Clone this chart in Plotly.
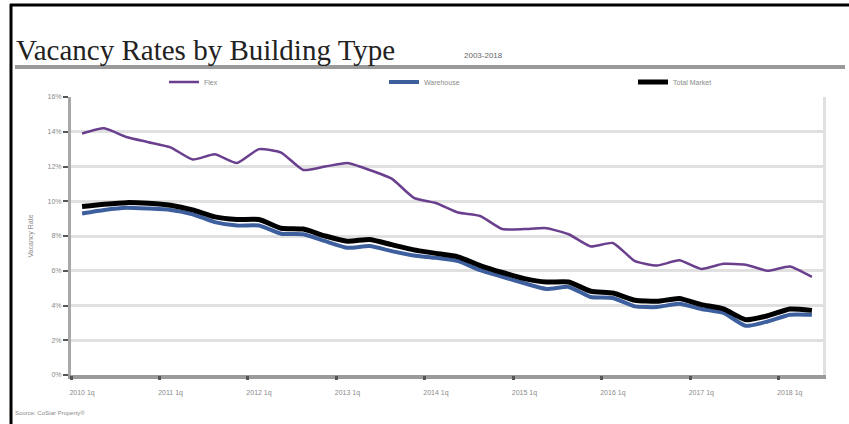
import plotly.graph_objects as go

# Quarterly vacancy rates, 2010 1q through 2018 2q (percent)
quarters = [
    "2010 1q", "2010 2q", "2010 3q", "2010 4q",
    "2011 1q", "2011 2q", "2011 3q", "2011 4q",
    "2012 1q", "2012 2q", "2012 3q", "2012 4q",
    "2013 1q", "2013 2q", "2013 3q", "2013 4q",
    "2014 1q", "2014 2q", "2014 3q", "2014 4q",
    "2015 1q", "2015 2q", "2015 3q", "2015 4q",
    "2016 1q", "2016 2q", "2016 3q", "2016 4q",
    "2017 1q", "2017 2q", "2017 3q", "2017 4q",
    "2018 1q", "2018 2q",
]
flex = [13.9, 14.2, 13.7, 13.4, 13.1, 12.4, 12.7, 12.2, 13.0, 12.8,
        11.8, 12.0, 12.2, 11.8, 11.3, 10.2, 9.9, 9.35, 9.15, 8.4,
        8.4, 8.45, 8.1, 7.4, 7.6, 6.55, 6.3, 6.6, 6.1, 6.4,
        6.35, 6.0, 6.25, 5.65]
warehouse = [9.3, 9.5, 9.63, 9.58, 9.5, 9.25, 8.8, 8.6, 8.6, 8.13,
             8.1, 7.7, 7.32, 7.42, 7.13, 6.88, 6.74, 6.55, 6.03, 5.65,
             5.28, 4.95, 5.07, 4.49, 4.43, 3.95, 3.91, 4.1, 3.8, 3.57,
             2.83, 3.08, 3.47, 3.47]
total_market = [9.7, 9.83, 9.92, 9.88, 9.77, 9.5, 9.1, 8.95, 8.95, 8.45,
                8.4, 8.0, 7.7, 7.8, 7.5, 7.2, 7.0, 6.8, 6.3, 5.9,
                5.55, 5.35, 5.35, 4.82, 4.72, 4.3, 4.24, 4.4, 4.05, 3.8,
                3.18, 3.41, 3.8, 3.72]

year_labels = ["2010 1q", "2011 1q", "2012 1q", "2013 1q", "2014 1q",
               "2015 1q", "2016 1q", "2017 1q", "2018 1q"]
y_ticks = [0, 2, 4, 6, 8, 10, 12, 14, 16]
y_tick_text = ["0%", "2%", "4%", "6%", "8%", "10%", "12%", "14%", "16%"]

W, H = 849, 424
ML, MR, MT, MB = 71, 26, 97, 49
PW, PH = W - ML - MR, H - MT - MB


def px(x):
    return (x - ML) / PW


def py(y):
    return (H - MB - y) / PH


fig = go.Figure()
fig.add_trace(go.Scatter(x=quarters, y=flex, name="Flex", mode="lines", legend="legend",
                         line=dict(color="#6a3f8e", width=2.5, shape="spline", smoothing=0.5)))
fig.add_trace(go.Scatter(x=quarters, y=warehouse, name="Warehouse", mode="lines", legend="legend2",
                         line=dict(color="#3d5f9e", width=4, shape="spline", smoothing=0.5)))
fig.add_trace(go.Scatter(x=quarters, y=total_market, name="Total Market", mode="lines", legend="legend3",
                         line=dict(color="#000000", width=5, shape="spline", smoothing=0.5)))

# invisible helper trace for the boundary tick marks and the right frame edge
fig.add_trace(go.Scatter(x=[None], y=[None], xaxis="x2", yaxis="y2",
                         showlegend=False, hoverinfo="skip"))

small = dict(family="Liberation Sans, Arial, sans-serif", size=7, color="#8a8a8a")


def legend_at(x_px):
    return dict(orientation="h", x=px(x_px), y=py(82), xanchor="left", yanchor="middle",
                font=small, itemwidth=30, bgcolor="rgba(0,0,0,0)")


fig.update_layout(
    width=W, height=H,
    margin=dict(l=ML, r=MR, t=MT, b=MB),
    paper_bgcolor="white", plot_bgcolor="white",
    showlegend=True,
    legend=legend_at(164),
    legend2=legend_at(384),
    legend3=legend_at(633),
    xaxis=dict(type="category", range=[-0.5, 33.5], tickvals=year_labels,
               ticktext=year_labels, ticks="", showgrid=False,
               showline=True, linecolor="#9a9a9a", linewidth=4,
               tickfont=small, ticklabelstandoff=8, zeroline=False),
    xaxis2=dict(overlaying="x", range=[-0.5, 33.5], tickvals=[-0.5, 3.5, 7.5, 11.5, 15.5, 19.5, 23.5, 27.5, 31.5],
                showticklabels=False, ticks="outside", ticklen=4, tickwidth=3, tickcolor="#555",
                showgrid=False, showline=False, zeroline=False, side="bottom"),
    yaxis=dict(range=[0, 16], tickvals=y_ticks, ticktext=y_tick_text,
               showgrid=True, gridcolor="#e0e0e0", gridwidth=3,
               showline=True, linecolor="#a8a8a8", linewidth=3,
               ticks="outside", ticklen=5, tickwidth=2, tickcolor="#555",
               tickfont=small, zeroline=False,
               title=dict(text="Vacancy Rate", font=small, standoff=14)),
    yaxis2=dict(overlaying="y", side="right", range=[0, 16], showgrid=False,
                showticklabels=False, showline=True, linecolor="#e0e0e0", linewidth=3,
                zeroline=False),
    annotations=[
        dict(text="Vacancy Rates by Building Type", xref="paper", yref="paper",
             x=px(14), y=py(50), xanchor="left", yanchor="middle", showarrow=False,
             font=dict(family="Liberation Serif, Times New Roman, serif", size=29, color="#222")),
        dict(text="2003-2018", xref="paper", yref="paper",
             x=px(462), y=py(55), xanchor="left", yanchor="middle", showarrow=False,
             font=dict(family="Liberation Sans, Arial, sans-serif", size=8, color="#666")),
        dict(text="Source: CoStar Property®", xref="paper", yref="paper",
             x=px(13), y=py(413), xanchor="left", yanchor="middle", showarrow=False,
             font=dict(family="Liberation Sans, Arial, sans-serif", size=6, color="#8a8a8a")),
    ],
    shapes=[
        # page frame (left and top edges)
        dict(type="line", xref="paper", yref="paper", x0=px(11), y0=py(424), x1=px(11), y1=py(4),
             line=dict(color="black", width=3)),
        dict(type="line", xref="paper", yref="paper", x0=px(10), y0=py(5), x1=px(849), y1=py(5),
             line=dict(color="black", width=3)),
        # rule under the heading
        dict(type="line", xref="paper", yref="paper", x0=px(15), y0=py(67), x1=px(845), y1=py(67),
             line=dict(color="#9a9a9a", width=4)),
    ],
)

fig.write_html("out.html")
